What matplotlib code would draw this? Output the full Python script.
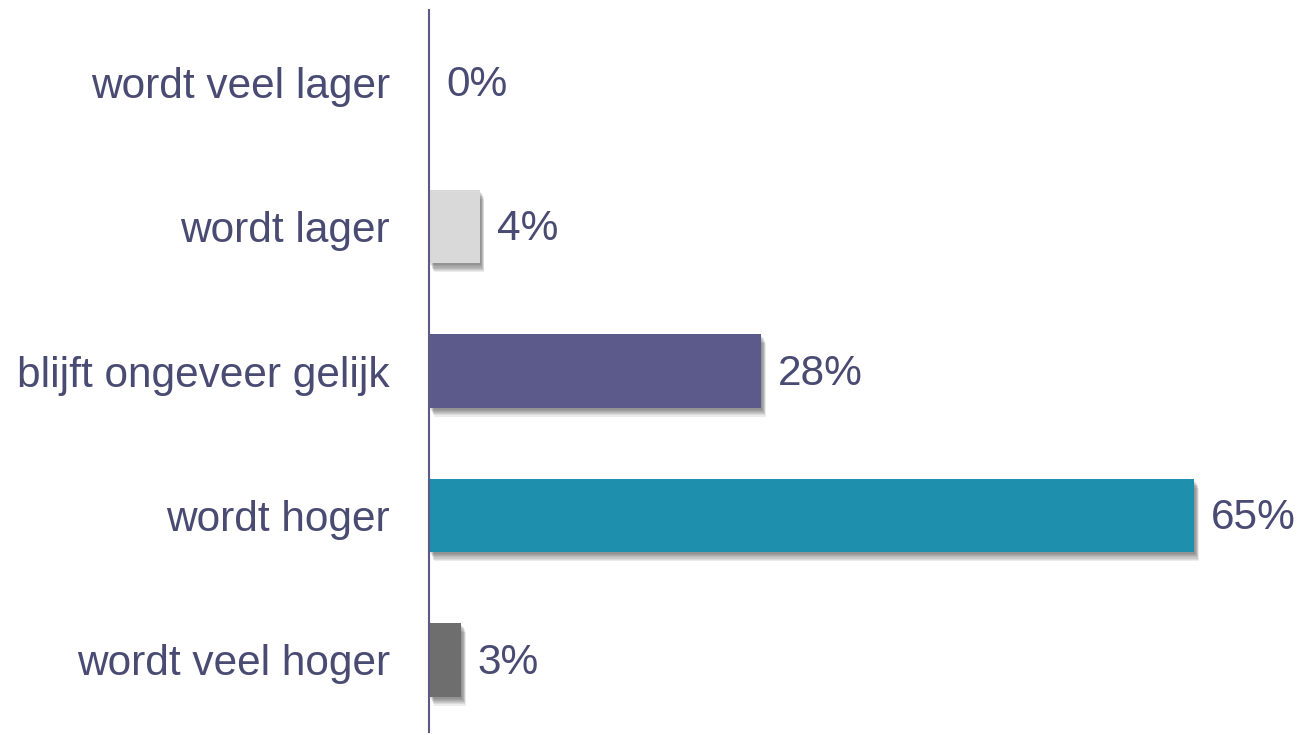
import matplotlib.pyplot as plt
import matplotlib.patheffects as pe

categories = ['wordt veel lager', 'wordt lager', 'blijft ongeveer gelijk',
              'wordt hoger', 'wordt veel hoger']
values = [0, 4.3, 28.2, 65, 2.7]
value_labels = ['0%', '4%', '28%', '65%', '3%']
bar_colors = ['#D9D9D9', '#D9D9D9', '#5B5A8A', '#1F8FAE', '#6E6E6E']

text_color = '#4A4B73'
plt.rcParams['font.family'] = ['Liberation Sans', 'DejaVu Sans']

fig = plt.figure(figsize=(13.01, 7.35), dpi=100)
ax = fig.add_axes([429 / 1301, 3 / 735, 1 - 429 / 1301, 722 / 735])

# zachte schaduw: lagen met oplopende verschuiving
offsets = [(3.5, -6.5), (3, -5.5), (2.7, -4.6), (2.3, -3.8), (2, -3), (1.5, -2.2), (1, -1.4)]
shadow = [pe.SimplePatchShadow(offset=o, shadow_rgbFace='k', alpha=0.075) for o in offsets]
shadow.append(pe.Normal())

ypos = list(range(len(categories)))
bars = ax.barh(ypos, values, height=0.51, color=bar_colors, zorder=3)
for b, v in zip(bars, values):
    if v > 0:
        b.set_path_effects(shadow)

for y, v, lab in zip(ypos, values, value_labels):
    ax.text(v + 1.45, y + 0.02, lab, va='center', ha='left', fontsize=30.5, color=text_color)

ax.set_yticks(ypos)
ax.set_yticklabels(categories, fontsize=30.5, color=text_color)
ax.tick_params(axis='y', length=0, pad=28)
ax.set_xticks([])
ax.set_xlim(0, 74.1)
ax.set_ylim(4.5, -0.5)

for s in ['top', 'right', 'bottom']:
    ax.spines[s].set_visible(False)
ax.spines['left'].set_color('#5A5A85')
ax.spines['left'].set_linewidth(1.5)
ax.spines['left'].set_zorder(5)

fig.savefig('out.png', dpi=100)
